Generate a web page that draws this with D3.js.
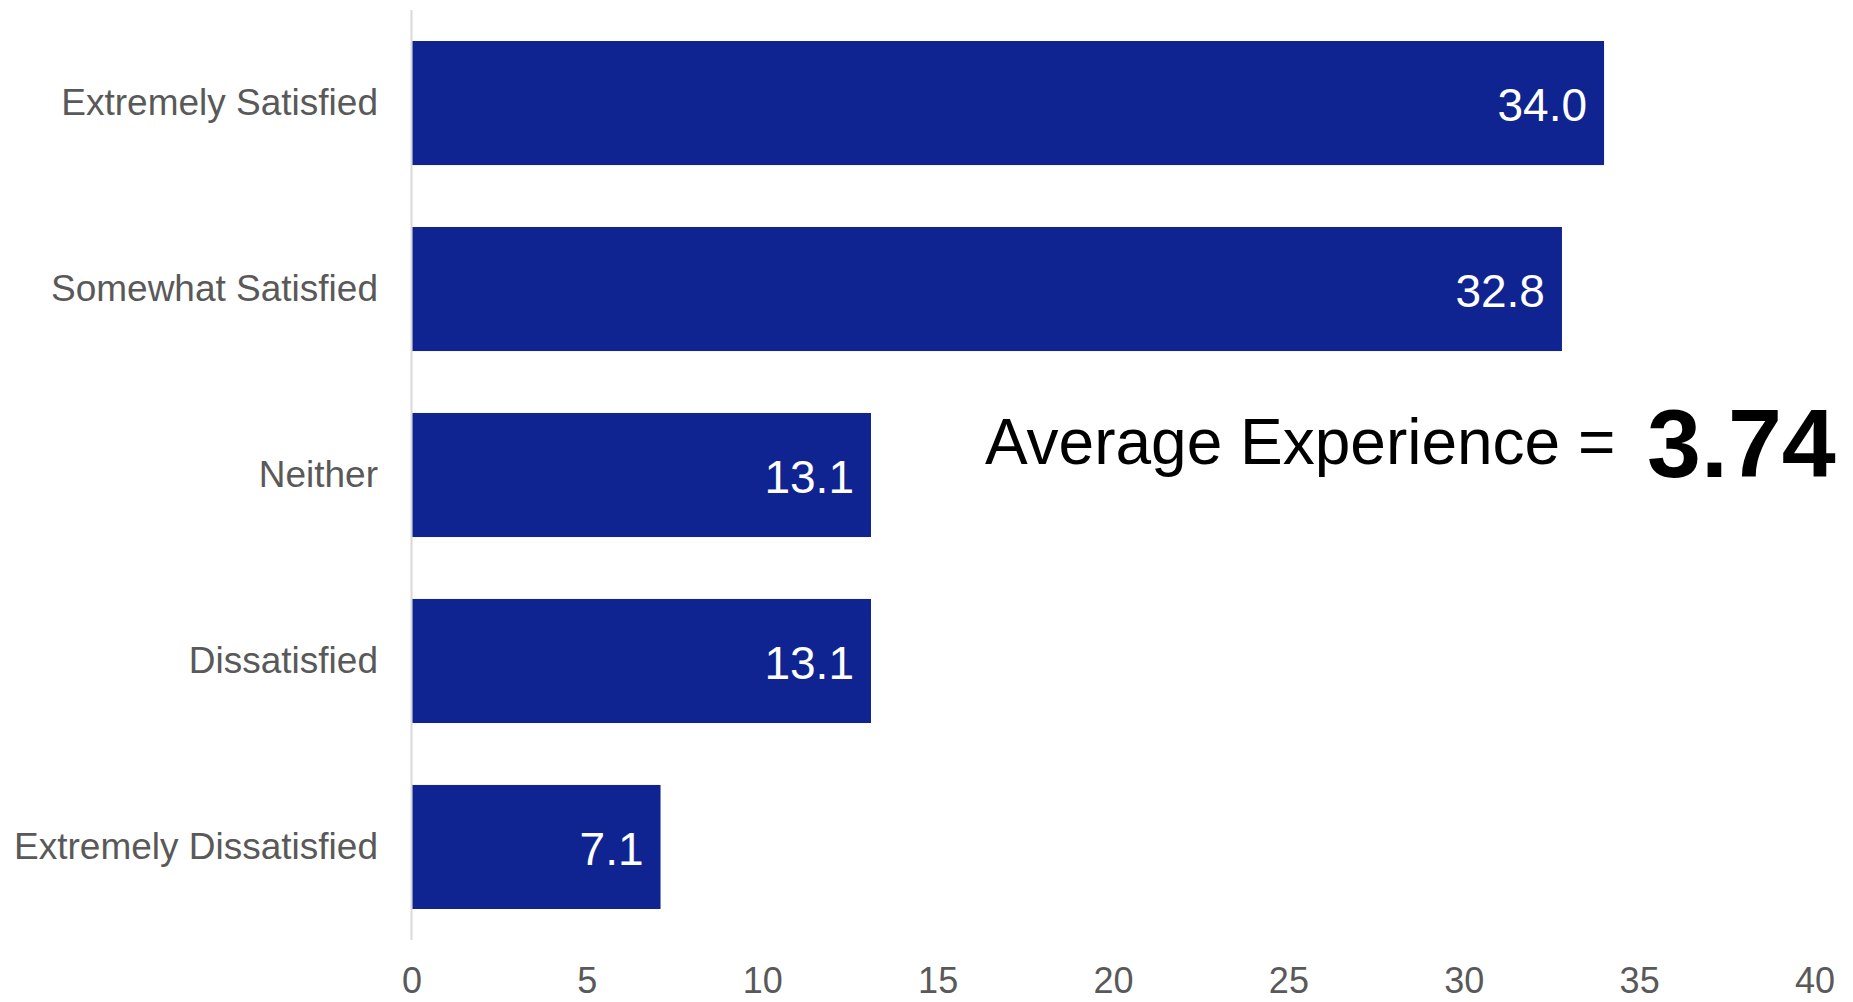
<!DOCTYPE html>
<html>
<head>
<meta charset="utf-8">
<script src="https://cdn.jsdelivr.net/npm/d3@7"></script>
<style>
  html, body { margin: 0; padding: 0; background: #ffffff; }
  svg { display: block; font-family: "Liberation Sans", Arial, sans-serif; }
</style>
</head>
<body>
<svg id="chart" width="1853" height="1002"></svg>
<script>
const categories = ["Extremely Satisfied", "Somewhat Satisfied", "Neither", "Dissatisfied", "Extremely Dissatisfied"];
const values = [34.0, 32.8, 13.1, 13.1, 7.1];
const xTicks = [0, 5, 10, 15, 20, 25, 30, 35, 40];
const annotationLabel = "Average Experience =";
const annotationValue = "3.74";

const svg = d3.select("#chart");
const x = d3.scaleLinear().domain([0, 40]).range([411.5, 1814.5]);
const y = d3.scaleBand().domain(categories).range([10, 940]).paddingInner(0.333).paddingOuter(0.1667);

// vertical baseline axis
svg.append("line")
  .attr("x1", x(0)).attr("x2", x(0))
  .attr("y1", 10).attr("y2", 940)
  .attr("stroke", "#d9d9d9").attr("stroke-width", 2);

// bars
svg.selectAll("rect.bar").data(values).join("rect")
  .attr("class", "bar")
  .attr("x", x(0) + 1)
  .attr("y", (d, i) => y(categories[i]))
  .attr("width", d => x(d) - x(0) - 1)
  .attr("height", y.bandwidth())
  .attr("fill", "#0f2491");

// value labels
svg.selectAll("text.val").data(values).join("text")
  .attr("class", "val")
  .attr("x", d => x(d) - 17)
  .attr("y", (d, i) => y(categories[i]) + y.bandwidth() / 2)
  .attr("dy", "0.39em")
  .attr("text-anchor", "end")
  .attr("fill", "#ffffff")
  .attr("font-size", 46)
  .text(d => d.toFixed(1));

// category labels
svg.selectAll("text.cat").data(categories).join("text")
  .attr("class", "cat")
  .attr("x", 378)
  .attr("y", d => y(d) + y.bandwidth() / 2)
  .attr("dy", "0.33em")
  .attr("text-anchor", "end")
  .attr("fill", "#595959")
  .attr("font-size", 37)
  .text(d => d);

// x axis tick labels
const xAxis = d3.axisBottom(x).tickValues(xTicks).tickSize(0).tickPadding(0).tickFormat(d3.format("d"));
const gx = svg.append("g").attr("transform", "translate(0,993)").call(xAxis);
gx.select(".domain").remove();
gx.selectAll("text")
  .attr("y", 0).attr("dy", 0)
  .attr("fill", "#595959")
  .attr("font-size", 36)
  .attr("font-family", "'Liberation Sans', Arial, sans-serif");

// annotation
svg.append("text")
  .attr("x", 985).attr("y", 464)
  .attr("fill", "#000000")
  .attr("font-size", 64)
  .text(annotationLabel);
svg.append("text")
  .attr("x", 1647).attr("y", 477)
  .attr("fill", "#000000")
  .attr("font-size", 97)
  .attr("font-weight", "bold")
  .text(annotationValue);
</script>
</body>
</html>
